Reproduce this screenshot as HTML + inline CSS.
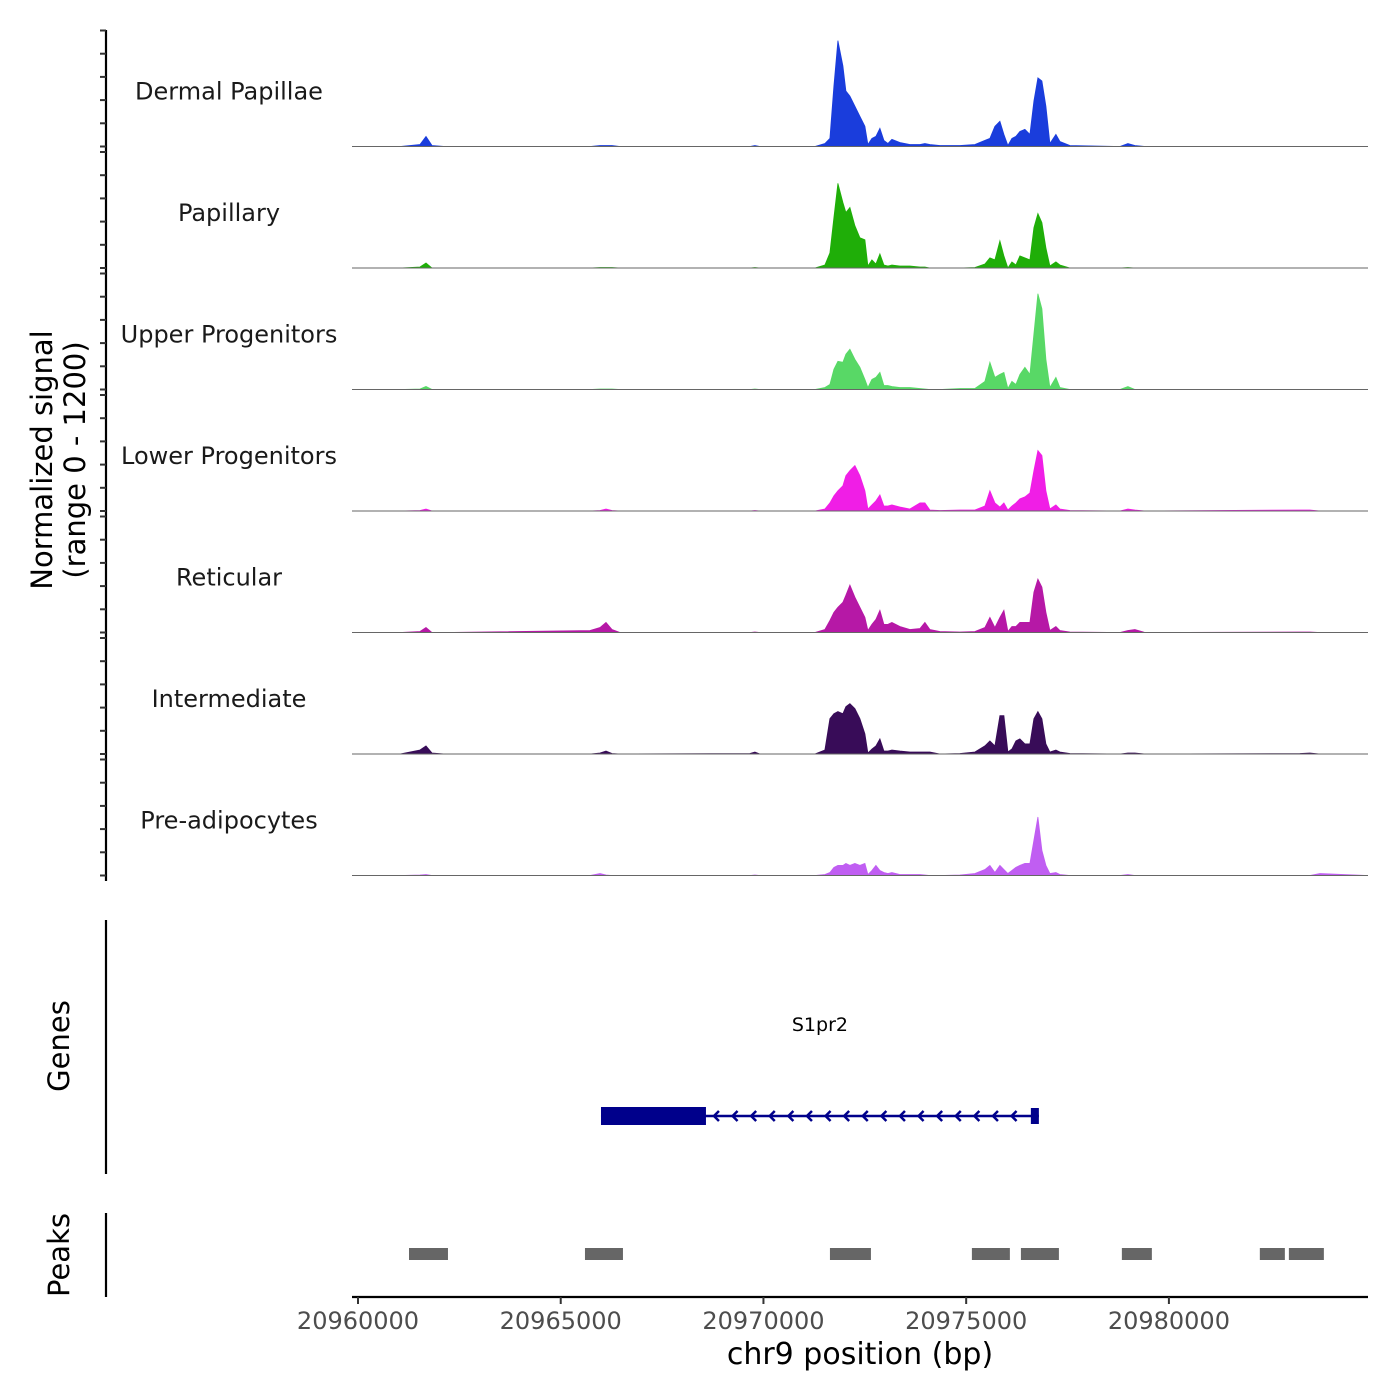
<!DOCTYPE html>
<html><head><meta charset="utf-8"><style>
html,body{margin:0;padding:0;background:#fff;}
svg{display:block;font-family:"DejaVu Sans","Liberation Sans",sans-serif;}
</style></head><body>
<svg id="chart" width="1400" height="1400" viewBox="0 0 1400 1400" xmlns="http://www.w3.org/2000/svg">
<rect width="1400" height="1400" fill="#fff"/>
<g id="tracks"></g>
<g id="yaxis"></g>
<text transform="translate(52,460) rotate(-90)" text-anchor="middle" font-size="29" fill="#000">Normalized signal</text>
<text transform="translate(85,460) rotate(-90)" text-anchor="middle" font-size="29" fill="#000">(range 0 - 1200)</text>
<line x1="106" y1="920" x2="106" y2="1174" stroke="#000" stroke-width="2.2"/>
<text transform="translate(69,1046) rotate(-90)" text-anchor="middle" font-size="29" fill="#000">Genes</text>
<g id="genes"></g>
<line x1="106" y1="1213" x2="106" y2="1297" stroke="#000" stroke-width="2.2"/>
<text transform="translate(69,1255) rotate(-90)" text-anchor="middle" font-size="29" fill="#000">Peaks</text>
<g id="peaks"></g>
<g id="xaxis"></g>
<text x="860" y="1364" text-anchor="middle" font-size="30" fill="#000">chr9 position (bp)</text>
</svg>
<script>
const chromStart = 20960000;
const trackNames = ["Dermal Papillae","Papillary","Upper Progenitors","Lower Progenitors","Reticular","Intermediate","Pre-adipocytes"];
const trackColors = ["#1a3ddc","#1fae08","#58d866","#f01ee6","#b618a6","#380c58","#c05ef2"];
const positions = [-148,1036,1529,1677,1825,2145,5721,5968,6116,6264,6461,9667,9790,9913,11270,11516,11640,11738,11837,11960,12034,12133,12256,12380,12503,12577,12676,12774,12873,12972,13070,13169,13366,13613,13860,13983,14106,14352,14845,15215,15462,15585,15708,15832,15931,16029,16128,16227,16325,16448,16572,16671,16769,16868,16967,17065,17213,17311,17558,18791,18989,19161,19408,23230,23477,23724,24908];
const dermalValues = [0,0,20,100,10,0,0,10,10,10,0,0,10,0,0,30,80,600,1050,800,550,500,400,300,200,20,80,100,180,60,30,70,40,20,20,30,20,10,10,20,60,80,200,250,120,10,80,100,150,170,120,450,680,650,400,30,120,50,10,0,30,10,0,0,0,0,0];
const papillaryValues = [0,0,10,50,0,0,0,5,5,5,0,0,5,0,0,30,150,500,840,650,550,600,420,300,280,20,80,40,140,30,20,30,20,20,10,10,0,0,0,5,40,100,80,270,120,0,60,30,120,100,80,400,540,450,200,20,60,30,0,0,5,0,0,0,0,0,0];
const upperValues = [0,0,5,30,0,0,0,5,5,5,0,0,5,0,0,20,50,200,280,270,350,400,300,220,100,20,100,120,170,40,40,30,20,20,10,5,0,0,10,10,80,270,120,150,170,10,80,50,150,220,150,550,950,800,300,20,120,20,0,0,30,0,0,0,0,0,0];
const lowerValues = [0,0,5,20,0,0,0,5,20,5,0,0,5,0,0,20,80,150,200,250,350,400,450,350,200,20,60,100,160,50,50,60,40,20,80,80,10,5,10,10,50,200,80,40,80,10,50,80,120,140,180,400,600,550,200,20,60,20,5,0,20,10,0,10,10,0,0];
const reticularValues = [0,0,10,50,0,0,20,50,100,30,0,0,5,0,0,30,120,200,250,300,370,470,350,250,150,20,80,130,220,80,80,100,60,30,40,100,30,10,5,10,50,150,50,150,220,10,60,60,100,100,100,400,530,450,200,20,60,20,5,0,20,30,0,5,5,0,0];
const intermediateValues = [0,0,40,80,10,0,0,10,30,5,0,5,20,0,0,40,350,400,420,400,470,500,450,350,200,10,50,80,150,30,30,40,30,20,20,20,20,0,5,20,80,130,80,380,380,20,50,130,150,100,100,350,420,350,100,20,40,20,5,0,10,10,0,5,10,0,0];
const preadipocyteValues = [0,0,5,10,0,0,0,20,5,0,0,0,5,0,0,10,30,80,100,100,120,100,120,100,120,10,50,100,50,30,20,30,10,10,10,5,0,0,5,20,60,100,30,100,60,20,50,80,100,120,120,350,580,250,100,20,30,10,0,0,10,0,0,0,0,20,0];
const trackValues = [dermalValues,papillaryValues,upperValues,lowerValues,reticularValues,intermediateValues,preadipocyteValues];
const xTicks = [20960000,20965000,20970000,20975000,20980000];
const peakStarts = [1258,5598,11640,15141,16350,18840,22243,22959];
const peakEnds = [2219,6535,12651,16078,17287,19580,22860,23822];
const geneName = "S1pr2";
const geneStart = 5993, geneThickEnd = 8582, geneEnd = 16793;

const NS = "http://www.w3.org/2000/svg";
function mk(tag, attrs, parent){const e=document.createElementNS(NS,tag);for(const k in attrs)e.setAttribute(k,attrs[k]);parent.appendChild(e);return e;}
const X0=352,X1=1368;
const bpToX = bp => 358 + (bp - chromStart) * 0.040545;
const offToX = off => bpToX(chromStart + off);
const trackH = 121.5, firstBase = 146.5, yMax = 1200;
const valToDy = v => v / yMax * 121;

const tracks=document.getElementById('tracks');
const yaxis=document.getElementById('yaxis');
const yline=mk('line',{x1:106,y1:30,x2:106,y2:881,stroke:'#000','stroke-width':2.2},yaxis);


trackNames.forEach((name,i)=>{
  const base = firstBase + i*trackH;
  const g=mk('g',{},tracks);
  
  
  const vals=trackValues[i];
  let d='M'+offToX(positions[0])+','+base;
  positions.forEach((p,j)=>{ d+=' L'+offToX(p).toFixed(1)+','+(base-valToDy(vals[j])).toFixed(1); });
  d+=' L'+offToX(positions[positions.length-1])+','+base+' Z';
  const area=mk('path',{d:d,fill:trackColors[i],stroke:trackColors[i],'stroke-width':0.8},g);
  
  
  const bl=mk('line',{x1:X0,y1:base,x2:X1,y2:base,stroke:'#666','stroke-width':1},g);
  
  
  const t=mk('text',{x:229,y:base-47,'text-anchor':'middle','font-size':24,fill:'#1a1a1a'},g);
  t.textContent=name;
  
  
  for(let j=0;j<=5;j++){
    const y=base - j*23.2;
    const tk=mk('line',{x1:100,y1:y,x2:106,y2:y,stroke:'#333','stroke-width':2},yaxis);
    
    
  }
});

const genes=document.getElementById('genes');
const gy=1116;
const gl=mk('line',{x1:offToX(geneStart),y1:gy,x2:offToX(geneEnd),y2:gy,stroke:'#00008b','stroke-width':2.5},genes);


const gb=mk('rect',{x:offToX(geneStart),y:gy-9,width:offToX(geneThickEnd)-offToX(geneStart),height:18,fill:'#00008b'},genes);


const ge=mk('rect',{x:offToX(geneEnd)-8,y:gy-8,width:8,height:16,fill:'#00008b'},genes);


for(let x=offToX(geneThickEnd)+8;x<offToX(geneEnd)-10;x+=18.6){
  const a=mk('path',{d:`M${x+5},${gy-5} L${x},${gy} L${x+5},${gy+5}`,fill:'none',stroke:'#00008b','stroke-width':2.5},genes);
  
  
}
const gt=mk('text',{x:(offToX(geneStart)+offToX(geneEnd))/2,y:1031,'text-anchor':'middle','font-size':19,fill:'#000'},genes);
gt.textContent=geneName;



const peaks=document.getElementById('peaks');
peakStarts.forEach((s,i)=>{
  const r=mk('rect',{x:offToX(s),y:1248,width:offToX(peakEnds[i])-offToX(s),height:12,fill:'#666'},peaks);
  
  
});

const xa=document.getElementById('xaxis');
const xl=mk('line',{x1:X0,y1:1297,x2:X1,y2:1297,stroke:'#000','stroke-width':2.2},xa);


xTicks.forEach(v=>{
  const x=bpToX(v);
  const tk=mk('line',{x1:x,y1:1297,x2:x,y2:1304,stroke:'#333','stroke-width':2},xa);
  
  
  const t=mk('text',{x:x,y:1329,'text-anchor':'middle','font-size':24,fill:'#4d4d4d'},xa);
  t.textContent=v;
  
  
});
</script>
</body></html>
